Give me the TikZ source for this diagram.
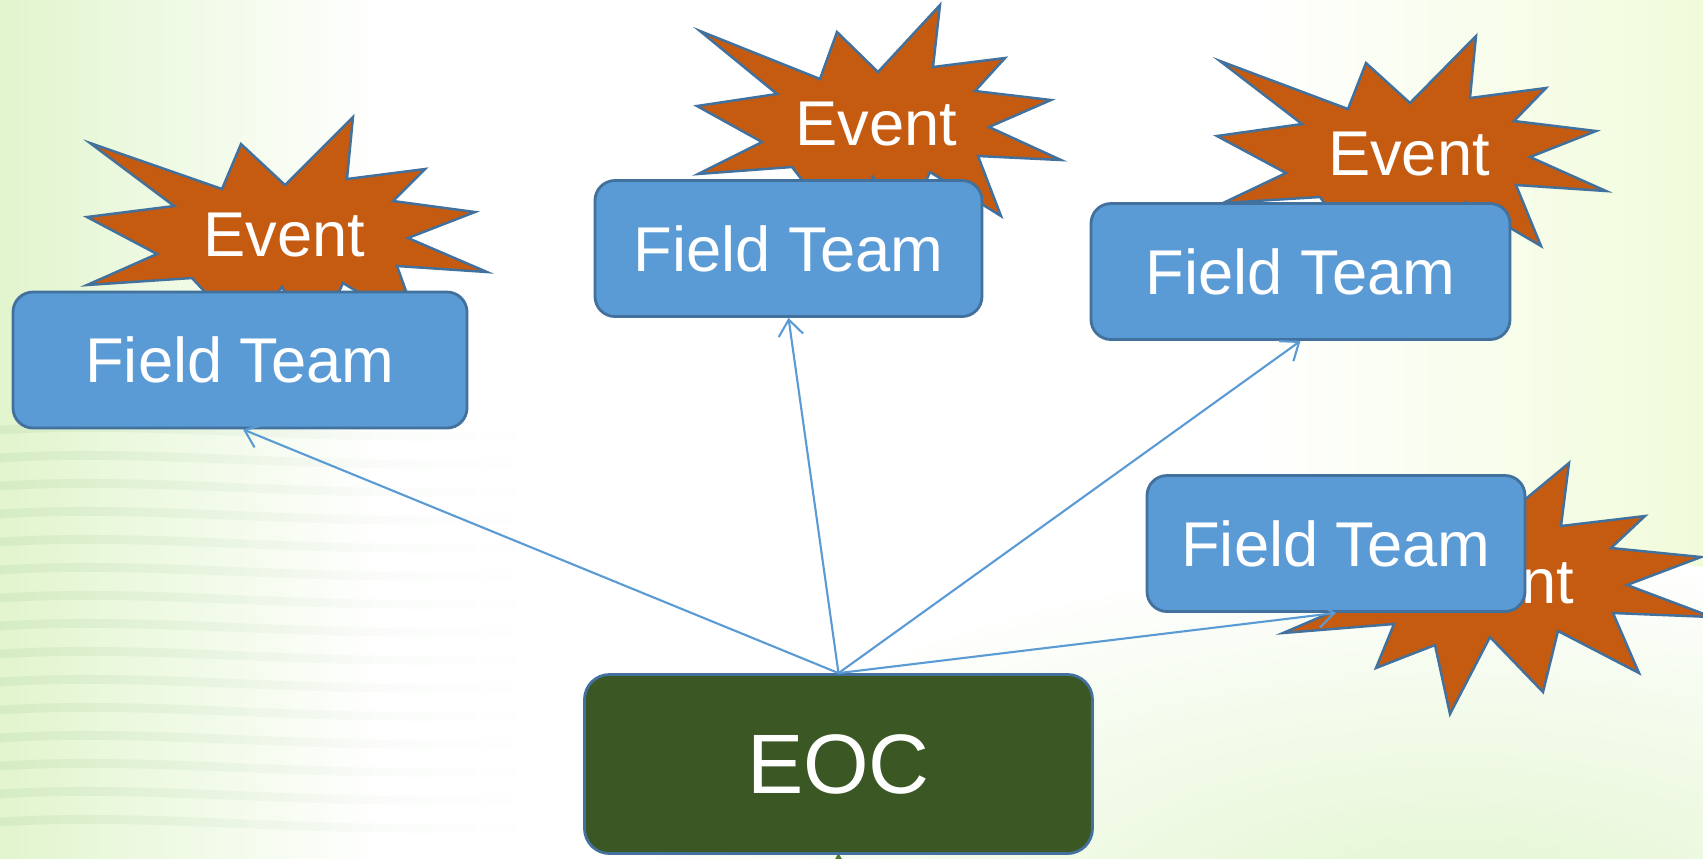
\documentclass[tikz,border=0pt]{standalone}
\usepackage{fontspec}
\setmainfont{Liberation Sans}
\usetikzlibrary{arrows.meta,fadings}
\definecolor{teamblue}{HTML}{5B9BD5}
\definecolor{edgeblue}{HTML}{41719C}
\definecolor{burstorange}{HTML}{C55A11}
\definecolor{eocgreen}{HTML}{3A5724}
\definecolor{palegreen}{HTML}{E2F5CE}
\definecolor{paleyellow}{HTML}{F1FBDA}
\definecolor{feedgreen}{HTML}{4A7E2C}

\begin{document}
\begin{tikzpicture}[x=0.1mm,y=-0.1mm,>={Straight Barb[length=4.5pt,width=7pt]},
   team/.style={draw=edgeblue,line width=0.8pt,fill=teamblue,rounded corners=2mm,
      text=white,inner sep=0pt,minimum height=13.6mm,font=\fontsize{18}{20}\selectfont},
   centre/.style={team,fill=eocgreen,rounded corners=2.5mm,minimum height=17.9mm,
      font=\fontsize{24}{28}\selectfont},
   burst/.style={draw=edgeblue,line width=0.7pt,fill=burstorange,line join=miter},
   eventtext/.style={text=white,inner sep=0pt,font=\fontsize{18}{20}\selectfont},
   link/.style={->,draw=teamblue,line width=0.6pt}]
   \useasboundingbox (0,0) rectangle (1703,858);

   % background
   \fill[white] (0,0) rectangle (1703,858);
   \shade[left color=palegreen,right color=white] (0,0) rectangle (380,858);
   \shade[left color=white,right color=paleyellow] (1250,0) rectangle (1703,858);
   \shade[inner color=palegreen,outer color=white] (1450,930) ellipse (850 and 380);
   \foreach \k in {0,...,14}
      \draw[green!25!gray,opacity=0.1,line width=2.5pt,path fading=east]
         (0,430+\k*28) .. controls (150,420+\k*28) and (300,442+\k*28) .. (520,435+\k*28);

   % event bursts
   \draw[burst] (353,117) -- (347,179) -- (425,169) -- (393,201) -- (475,212) -- (408,238)
      -- (487,272) -- (397,266) -- (420,330) -- (343,283) -- (315,345) -- (282,287)
      -- (245,335) -- (192,278) -- (87,285) -- (157,254) -- (87,217) -- (174,206)
      -- (90,143) -- (222,189) -- (241,144) -- (285,185) -- cycle;
   \node[eventtext] (ev1) at (284.5,235) {Event};

   \draw[burst] (940,5) -- (933,67) -- (1005,58) -- (975,91) -- (1051,100) -- (989,127)
      -- (1061,160) -- (978,156) -- (1001,216) -- (930,172) -- (905,230) -- (873,177)
      -- (845,235) -- (792,167) -- (698,174) -- (762,142) -- (697,106) -- (777,94)
      -- (700,31) -- (820,79) -- (837,32) -- (878,72) -- cycle;
   \node[eventtext] (ev2) at (876.5,124) {Event};

   \draw[burst] (1476,36) -- (1470,98) -- (1546,88) -- (1514,121) -- (1596,131) -- (1530,157)
      -- (1606,191) -- (1516,185) -- (1541,246) -- (1466,202) -- (1440,260) -- (1405,215)
      -- (1370,265) -- (1320,197) -- (1223,203) -- (1286,173) -- (1217,136) -- (1302,124)
      -- (1220,61) -- (1348,109) -- (1366,63) -- (1410,103) -- cycle;
   \node[eventtext] (ev3) at (1409,153.7) {Event};

   \draw[burst] (1569,463) -- (1561,526) -- (1645,516) -- (1611,548) -- (1701,557) -- (1627,585)
      -- (1712,617) -- (1613,613) -- (1639,673) -- (1558,631) -- (1543,692) -- (1490,637)
      -- (1450,714) -- (1435,645) -- (1376,668) -- (1394,624) -- (1283,633) -- (1360,600)
      -- (1260,560) -- (1380,540) -- (1300,495) -- (1450,525) -- (1505,516) -- cycle;
   \node[eventtext] (ev4) at (1493.5,581.7) {Event};

   % teams and EOC
   \coordinate (feed) at (838.5,905);
   \draw[-{Stealth[length=10pt,width=11pt]},feedgreen,line width=3pt] (feed) -- (838.5,853);

   \node[team,minimum width=45.4mm] (ft1) at (240,360) {Field Team};
   \node[team,minimum width=38.7mm] (ft2) at (788.5,248.5) {Field Team};
   \node[team,minimum width=41.9mm] (ft3) at (1300.5,271.5) {Field Team};
   \node[team,minimum width=37.8mm] (ft4) at (1336,543.5) {Field Team};
   \node[centre,minimum width=50.8mm] (eoc) at (838.5,764) {EOC};

   \draw[link] (eoc.north) -- ([xshift=0.3mm]ft1.south);
   \draw[link] (eoc.north) -- (ft2.south);
   \draw[link] (eoc.north) -- (ft3.south);
   \draw[link] (eoc.north) -- (ft4.south);
\end{tikzpicture}
\end{document}
